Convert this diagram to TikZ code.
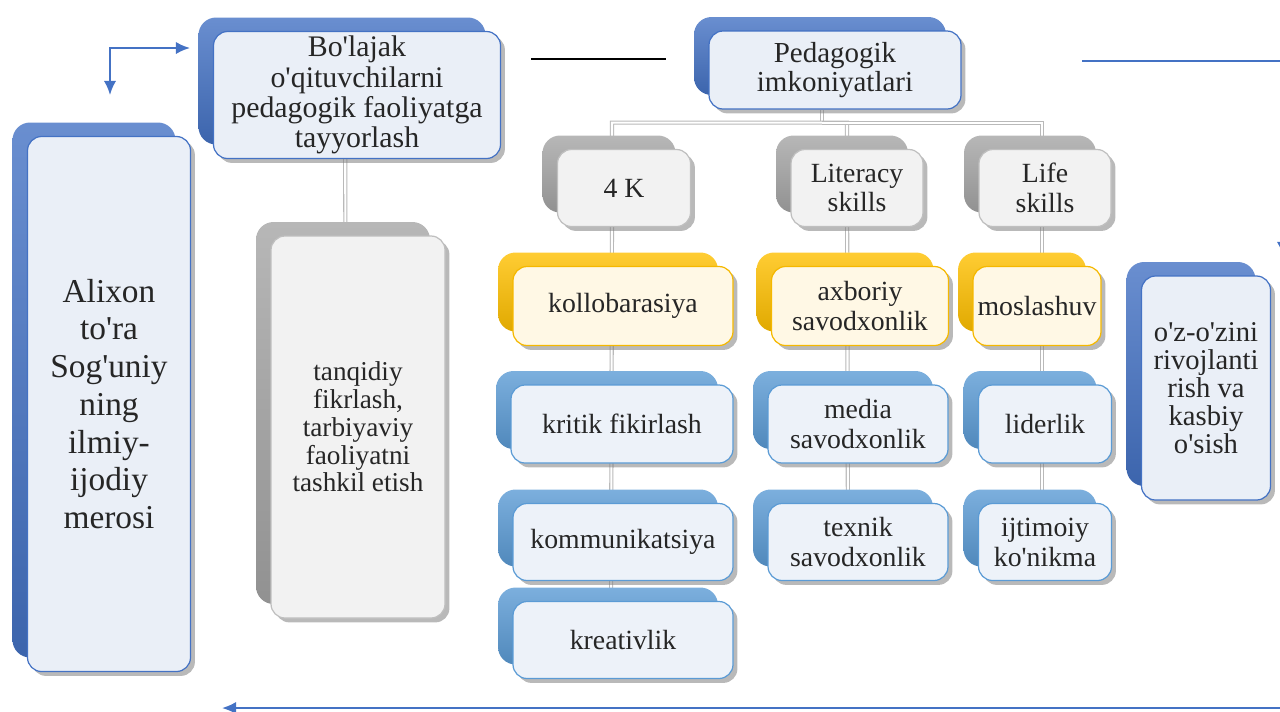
\documentclass[tikz,border=0pt]{standalone}
\usepackage{fontspec}
\setmainfont{Liberation Serif}[Ligatures=TeXOff]
\usetikzlibrary{shadows,backgrounds,calc,arrows.meta}

\definecolor{bluebk}{HTML}{4472C4}
\definecolor{blueln}{HTML}{4472C4}
\definecolor{bluefl}{HTML}{EAEFF7}
\definecolor{greybk}{HTML}{A5A5A5}
\definecolor{greyln}{HTML}{BFBFBF}
\definecolor{greyfl}{HTML}{F2F2F2}
\definecolor{goldbk}{HTML}{FFC000}
\definecolor{goldln}{HTML}{F5B800}
\definecolor{goldfl}{HTML}{FFF8E5}
\definecolor{skybk}{HTML}{5B9BD5}
\definecolor{skyln}{HTML}{5B9BD5}
\definecolor{skyfl}{HTML}{EDF2F9}
\definecolor{arrowblue}{HTML}{4472C4}

\tikzset{
	backbox/.style={rounded corners=10pt, inner sep=0pt},
	frontbox/.style={draw, rounded corners=8pt, line width=0.7pt, inner sep=1pt, align=center,
		font=\fontsize{15.8}{17}\selectfont, text=black!85,
		drop shadow={shadow xshift=2.5pt, shadow yshift=-2.5pt, opacity=0.55, fill=gray}},
	link/.style={draw=gray!55, double=white, double distance=1.2pt, line width=0.6pt},
	flow/.style={draw=arrowblue, line width=1.2pt},
	tip/.tip={Latex[length=8pt,width=7pt]},
}

% back card + front card, [#1] front options, #2 name, #3 #4 centre, #5 #6 size (px), #7 colour set, #8 text
\newcommand{\duo}[8][]{%
	\node[backbox, top color=#7bk!80!white, bottom color=#7bk!88!black,
		minimum width=#5*0.02cm, minimum height=#6*0.02cm] (#2-b) at (#3-15,#4-14) {};
	\node[frontbox, draw=#7ln, fill=#7fl,
		minimum width=#5*0.02cm, minimum height=#6*0.02cm, #1] (#2) at (#3,#4) {#8};
}

\begin{document}
\begin{tikzpicture}[x=0.02cm, y=-0.02cm]
	\useasboundingbox (0,0) rectangle (1280,711);

	\duo[font=\fontsize{17}{17.2}\selectfont]{bolajak}{357}{95}{287}{127}{blue}{Bo'lajak\\o'qituvchilarni\\pedagogik faoliyatga\\tayyorlash}
	\duo[font=\fontsize{16.5}{17}\selectfont]{pedagogik}{835}{70}{252}{78}{blue}{Pedagogik\\imkoniyatlari}
	\duo[font=\fontsize{19}{21.5}\selectfont]{alixon}{109}{404}{163}{535}{blue}{Alixon\\to'ra\\Sog'uniy\\ning\\ilmiy-\\ijodiy\\merosi}
	\duo[font=\fontsize{15.5}{15.8}\selectfont]{tanqidiy}{358}{427}{174}{382}{grey}{tanqidiy\\fikrlash,\\tarbiyaviy\\faoliyatni\\tashkil etish}
	\duo[font=\fontsize{16.3}{16}\selectfont]{ozozini}{1206}{388}{129}{224}{blue}{o'z-o'zini\\rivojlanti\\rish va\\kasbiy\\o'sish}

	\duo{k4}{624}{188}{133}{77}{grey}{4 K}
	\duo{literacy}{857}{188}{132}{77}{grey}{Literacy\\skills}
	\duo{life}{1045}{188}{132}{77}{grey}{Life\\skills}

	\duo{kollobarasiya}{623}{306}{220}{79}{gold}{kollobarasiya}
	\duo{axboriy}{860}{306}{177}{79}{gold}{axboriy\\savodxonlik}
	\duo{moslashuv}{1037}{306}{128}{79}{gold}{moslashuv}

	\duo{kritik}{622}{424}{222}{78}{sky}{kritik fikirlash}
	\duo{media}{858}{424}{180}{78}{sky}{media\\savodxonlik}
	\duo{liderlik}{1045}{424}{133}{78}{sky}{liderlik}

	\duo{kommunikatsiya}{623}{542}{220}{77}{sky}{kommunikatsiya}
	\duo{texnik}{858}{542}{180}{77}{sky}{texnik\\savodxonlik}
	\duo{ijtimoiy}{1045}{542}{133}{77}{sky}{ijtimoiy\\ko'nikma}

	\duo{kreativlik}{623}{640}{220}{77}{sky}{kreativlik}

	% connectors behind the cards
	\begin{scope}[on background layer]
		\draw[link] ($(bolajak)+(-12,0)$) -- ($(tanqidiy)+(-12,0)$);
		\coordinate (treebus) at ($(pedagogik.south)+(-13,13)$);
		\draw[link] (pedagogik.south -| treebus) -- (treebus);
		\draw[link] (treebus) -| ($(k4)+(-12,0)$) -- ($(kreativlik)+(-12,0)$);
		\draw[link] (treebus) -| ($(literacy)+(-10,0)$) -- ($(texnik)+(-10,0)$);
		\draw[link] (treebus) -| ($(life)+(-3,0)$) -- ($(ijtimoiy)+(-3,0)$);
	\end{scope}

	% loose lines and arrows
	\coordinate (elbowdown) at (110,95);
	\coordinate (elbowright) at (190,48);
	\draw[flow, tip-tip] (elbowdown) |- (elbowright);

	\coordinate (blackL) at (531,59);
	\coordinate (blackR) at (666,59);
	\draw[line width=1.2pt, black] (blackL) -- (blackR);

	\coordinate (blueL) at (1082,61);
	\coordinate (blueR) at (1282,61);
	\draw[flow] (blueL) -- (blueR);

	\coordinate (bottomR) at (1282,708);
	\coordinate (bottomL) at (222,708);
	\draw[flow, -tip] (bottomR) -- (bottomL);

	\coordinate (edgeT) at (1283,238);
	\coordinate (edgeB) at (1283,256);
	\draw[flow, -tip] (edgeT) -- (edgeB);
\end{tikzpicture}
\end{document}
